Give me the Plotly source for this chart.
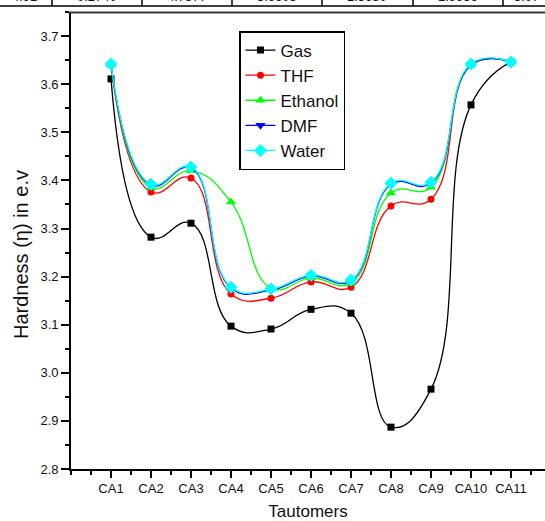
import plotly.graph_objects as go

categories = ["CA1", "CA2", "CA3", "CA4", "CA5", "CA6", "CA7", "CA8", "CA9", "CA10", "CA11"]
x_pos = [1, 2, 3, 4, 5, 6, 7, 8, 9, 10, 11]

gas = [3.611, 3.282, 3.311, 3.097, 3.091, 3.132, 3.124, 2.887, 2.966, 3.557, 3.646]
thf = [3.640, 3.376, 3.405, 3.164, 3.155, 3.189, 3.178, 3.347, 3.361, 3.640, 3.646]
ethanol = [3.640, 3.385, 3.420, 3.355, 3.176, 3.197, 3.186, 3.374, 3.386, 3.640, 3.646]
dmf = [3.640, 3.390, 3.426, 3.176, 3.172, 3.201, 3.191, 3.392, 3.394, 3.640, 3.646]
water = [3.642, 3.392, 3.428, 3.178, 3.174, 3.203, 3.193, 3.394, 3.396, 3.642, 3.646]

table_row = ["4.91", "0.2740", "4.7577", "3.6608", "1.5650", "1.9956", "3.07"]

series = [
    ("Gas", gas, "#000000", "square", 7),
    ("THF", thf, "#FF0000", "circle", 7),
    ("Ethanol", ethanol, "#00FF00", "triangle-up", 9),
    ("DMF", dmf, "#0000FF", "triangle-down", 9),
    ("Water", water, "#00FFFF", "diamond", 10),
]

fig = go.Figure()
for name, vals, color, sym, sz in series:
    fig.add_trace(go.Scatter(
        x=x_pos, y=vals, name=name, mode="lines+markers",
        line=dict(color=color, width=1.3, shape="spline", smoothing=1.3),
        marker=dict(symbol=sym, size=sz, color=color, line=dict(width=0)),
    ))

W, H = 545, 521
L, R, T, B = 71, 0, 12, 52
pw = W - L - R
ph = H - T - B

def px_x(px):
    return (px - L) / pw

def px_y(py):
    return (H - B - py) / ph

fig.update_layout(
    width=W, height=H,
    margin=dict(l=L, r=R, t=T, b=B),
    paper_bgcolor="white", plot_bgcolor="white",
    font=dict(family="Liberation Sans, Arial, sans-serif", color="#111111", size=13),
    xaxis=dict(
        range=[0, pw / 40.0], tickmode="array", tickvals=x_pos, ticktext=categories,
        showline=True, linecolor="black", linewidth=1.6, mirror=False,
        ticks="outside", ticklen=7, tickwidth=1.5, tickcolor="black",
        showgrid=False, zeroline=False, tickfont=dict(size=13),
        minor=dict(ticks="outside", ticklen=4, tickwidth=1.5, tickcolor="black",
                   tick0=0, dtick=0.5, showgrid=False),
        title=dict(text="Tautomers", font=dict(size=17), standoff=12),
    ),
    yaxis=dict(
        range=[2.8, 2.8 + 0.1 * ph / 48.1], tickmode="linear", tick0=2.8, dtick=0.1,
        tickformat=".1f",
        showline=True, linecolor="black", linewidth=1.6, mirror=False,
        ticks="outside", ticklen=8, tickwidth=1.5, tickcolor="black",
        showgrid=False, zeroline=False, tickfont=dict(size=13),
        minor=dict(ticks="outside", ticklen=4, tickwidth=1.5, tickcolor="black",
                   tick0=2.8, dtick=0.05, showgrid=False),
    ),
    legend=dict(
        x=px_x(239), y=px_y(31), xanchor="left", yanchor="top",
        bordercolor="black", borderwidth=1.5, bgcolor="white",
        font=dict(size=17), tracegroupgap=0,
    ),
    showlegend=True,
)

# y-axis title placed as annotation
fig.add_annotation(
    text="Hardness (η) in e.v", textangle=-90, showarrow=False,
    xref="paper", yref="paper", x=px_x(21), y=px_y(255),
    xanchor="center", yanchor="middle", font=dict(size=20),
)

# top frame line
fig.add_shape(type="line", xref="paper", yref="paper",
              x0=px_x(68), x1=1.02, y0=px_y(12.5), y1=px_y(12.5),
              line=dict(color="#333333", width=2))

# table fragment at the top of the image
fig.add_shape(type="line", xref="paper", yref="paper",
              x0=px_x(-2), x1=1.02, y0=px_y(6), y1=px_y(6),
              line=dict(color="black", width=1.5))
seps = [52, 142, 232, 322, 413, 503]
for sx in seps:
    fig.add_shape(type="line", xref="paper", yref="paper",
                  x0=px_x(sx), x1=px_x(sx), y0=px_y(6), y1=px_y(-5),
                  line=dict(color="black", width=1.5))
centers = [24, 97, 187, 277, 367, 458, 526]
for cx, txt in zip(centers, table_row):
    fig.add_annotation(text=txt, showarrow=False, xref="paper", yref="paper",
                       x=px_x(cx), y=px_y(4.5), xanchor="center", yanchor="bottom",
                       font=dict(size=13), borderpad=0)

fig.write_html("out.html", post_script="document.body.style.margin='0';",
               config={"displayModeBar": False})
